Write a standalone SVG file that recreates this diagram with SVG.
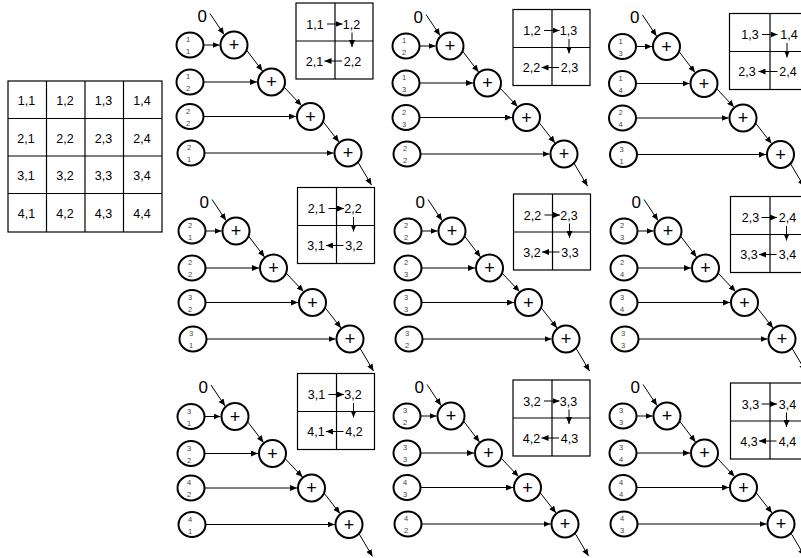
<svg xmlns="http://www.w3.org/2000/svg" width="801" height="558" viewBox="0 0 801 558">
<defs>
<style>
text{font-family:"Liberation Sans",Arial,sans-serif;text-anchor:middle;fill:#000}
.n{fill:#fff;stroke:#000;stroke-width:2}
.b{fill:none;stroke:#000;stroke-width:1.2}
.c line{stroke:#000;stroke-width:1;marker-end:url(#ah)}
.z{font-size:17px}
.p{font-size:18px}
.d{font-size:7.5px;fill:#444}
.m{font-size:12.5px}
</style>
<marker id="ah" markerUnits="userSpaceOnUse" markerWidth="7" markerHeight="6" refX="7" refY="3" orient="auto"><path d="M0,0 L7,3 L0,6 z" fill="#000"/></marker>
</defs>
<rect width="801" height="558" fill="#fff"/>

<g id="big-matrix">
<rect class="b" x="8" y="81" width="154" height="151"/>
<line class="b" x1="46.5" y1="81" x2="46.5" y2="232"/>
<line class="b" x1="85" y1="81" x2="85" y2="232"/>
<line class="b" x1="123.5" y1="81" x2="123.5" y2="232"/>
<line class="b" x1="8" y1="118.5" x2="162" y2="118.5"/>
<line class="b" x1="8" y1="156" x2="162" y2="156"/>
<line class="b" x1="8" y1="193.5" x2="162" y2="193.5"/>
<text class="m" x="26.5" y="104.5">1,1</text><text class="m" x="65" y="104.5">1,2</text><text class="m" x="103.5" y="104.5">1,3</text><text class="m" x="142" y="104.5">1,4</text>
<text class="m" x="26" y="142.5">2,1</text><text class="m" x="65" y="142.5">2,2</text><text class="m" x="103.5" y="142.5">2,3</text><text class="m" x="142" y="142.5">2,4</text>
<text class="m" x="26" y="180">3,1</text><text class="m" x="65" y="180">3,2</text><text class="m" x="103.5" y="180">3,3</text><text class="m" x="142" y="180">3,4</text>
<text class="m" x="26.5" y="218">4,1</text><text class="m" x="65" y="218">4,2</text><text class="m" x="103.5" y="218">4,3</text><text class="m" x="142" y="218">4,4</text>
</g>

<g id="connectors" class="c">
<g transform="translate(234,45)"><line x1="-24" y1="-31.5" x2="-10" y2="-10.5"/><line x1="-30.5" y1="0" x2="-14.5" y2="0"/><line x1="-30.5" y1="37" x2="23" y2="37"/><line x1="-30.5" y1="71.5" x2="62" y2="71.5"/><line x1="-29.5" y1="108" x2="99.5" y2="108"/><line x1="12.5" y1="5" x2="28.5" y2="26"/><line x1="50" y1="42" x2="67.5" y2="60.5"/><line x1="89" y1="76.5" x2="105" y2="97"/><line x1="123" y1="115.5" x2="137.5" y2="140"/></g>
<g transform="translate(450,46)"><line x1="-24" y1="-31.5" x2="-10" y2="-10.5"/><line x1="-30.5" y1="0" x2="-14.5" y2="0"/><line x1="-30.5" y1="37" x2="23" y2="37"/><line x1="-30.5" y1="71.5" x2="62" y2="71.5"/><line x1="-29.5" y1="108" x2="99.5" y2="108"/><line x1="12.5" y1="5" x2="28.5" y2="26"/><line x1="50" y1="42" x2="67.5" y2="60.5"/><line x1="89" y1="76.5" x2="105" y2="97"/><line x1="123" y1="115.5" x2="137.5" y2="140"/></g>
<g transform="translate(666.5,46.5)"><line x1="-24" y1="-31.5" x2="-10" y2="-10.5"/><line x1="-30.5" y1="0" x2="-14.5" y2="0"/><line x1="-30.5" y1="37" x2="23" y2="37"/><line x1="-30.5" y1="71.5" x2="62" y2="71.5"/><line x1="-29.5" y1="108" x2="99.5" y2="108"/><line x1="12.5" y1="5" x2="28.5" y2="26"/><line x1="50" y1="42" x2="67.5" y2="60.5"/><line x1="89" y1="76.5" x2="105" y2="97"/><line x1="123" y1="115.5" x2="137.5" y2="140"/></g>
<g transform="translate(236,231)"><line x1="-24" y1="-31.5" x2="-10" y2="-10.5"/><line x1="-30.5" y1="0" x2="-14.5" y2="0"/><line x1="-30.5" y1="37" x2="23" y2="37"/><line x1="-30.5" y1="71.5" x2="62" y2="71.5"/><line x1="-29.5" y1="108" x2="99.5" y2="108"/><line x1="12.5" y1="5" x2="28.5" y2="26"/><line x1="50" y1="42" x2="67.5" y2="60.5"/><line x1="89" y1="76.5" x2="105" y2="97"/><line x1="123" y1="115.5" x2="137.5" y2="140"/></g>
<g transform="translate(452,231)"><line x1="-24" y1="-31.5" x2="-10" y2="-10.5"/><line x1="-30.5" y1="0" x2="-14.5" y2="0"/><line x1="-30.5" y1="37" x2="23" y2="37"/><line x1="-30.5" y1="71.5" x2="62" y2="71.5"/><line x1="-29.5" y1="108" x2="99.5" y2="108"/><line x1="12.5" y1="5" x2="28.5" y2="26"/><line x1="50" y1="42" x2="67.5" y2="60.5"/><line x1="89" y1="76.5" x2="105" y2="97"/><line x1="123" y1="115.5" x2="137.5" y2="140"/></g>
<g transform="translate(668,231)"><line x1="-24" y1="-31.5" x2="-10" y2="-10.5"/><line x1="-30.5" y1="0" x2="-14.5" y2="0"/><line x1="-30.5" y1="37" x2="23" y2="37"/><line x1="-30.5" y1="71.5" x2="62" y2="71.5"/><line x1="-29.5" y1="108" x2="99.5" y2="108"/><line x1="12.5" y1="5" x2="28.5" y2="26"/><line x1="50" y1="42" x2="67.5" y2="60.5"/><line x1="89" y1="76.5" x2="105" y2="97"/><line x1="123" y1="115.5" x2="137.5" y2="140"/></g>
<g transform="translate(235,416.5)"><line x1="-24" y1="-31.5" x2="-10" y2="-10.5"/><line x1="-30.5" y1="0" x2="-14.5" y2="0"/><line x1="-30.5" y1="37" x2="23" y2="37"/><line x1="-30.5" y1="71.5" x2="62" y2="71.5"/><line x1="-29.5" y1="108" x2="99.5" y2="108"/><line x1="12.5" y1="5" x2="28.5" y2="26"/><line x1="50" y1="42" x2="67.5" y2="60.5"/><line x1="89" y1="76.5" x2="105" y2="97"/><line x1="123" y1="115.5" x2="137.5" y2="140"/></g>
<g transform="translate(451,416)"><line x1="-24" y1="-31.5" x2="-10" y2="-10.5"/><line x1="-30.5" y1="0" x2="-14.5" y2="0"/><line x1="-30.5" y1="37" x2="23" y2="37"/><line x1="-30.5" y1="71.5" x2="62" y2="71.5"/><line x1="-29.5" y1="108" x2="99.5" y2="108"/><line x1="12.5" y1="5" x2="28.5" y2="26"/><line x1="50" y1="42" x2="67.5" y2="60.5"/><line x1="89" y1="76.5" x2="105" y2="97"/><line x1="123" y1="115.5" x2="137.5" y2="140"/></g>
<g transform="translate(667,416)"><line x1="-24" y1="-31.5" x2="-10" y2="-10.5"/><line x1="-30.5" y1="0" x2="-14.5" y2="0"/><line x1="-30.5" y1="37" x2="23" y2="37"/><line x1="-30.5" y1="71.5" x2="62" y2="71.5"/><line x1="-29.5" y1="108" x2="99.5" y2="108"/><line x1="12.5" y1="5" x2="28.5" y2="26"/><line x1="50" y1="42" x2="67.5" y2="60.5"/><line x1="89" y1="76.5" x2="105" y2="97"/><line x1="123" y1="115.5" x2="137.5" y2="140"/></g>
<g transform="translate(296,3)"><line x1="31" y1="21" x2="46.5" y2="21"/><line x1="56" y1="29.5" x2="56" y2="44"/><line x1="46" y1="58" x2="28.5" y2="58"/></g>
<g transform="translate(513,9.5)"><line x1="31" y1="21" x2="46.5" y2="21"/><line x1="56" y1="29.5" x2="56" y2="44"/><line x1="46" y1="58" x2="28.5" y2="58"/></g>
<g transform="translate(729.5,13.5)"><line x1="32.5" y1="21" x2="48" y2="21"/><line x1="57.5" y1="29.5" x2="57.5" y2="44"/><line x1="48" y1="58" x2="29" y2="58"/></g>
<g transform="translate(297.5,187.5)"><line x1="31" y1="21" x2="46.5" y2="21"/><line x1="56" y1="29.5" x2="56" y2="44"/><line x1="46" y1="58" x2="28.5" y2="58"/></g>
<g transform="translate(513.5,194)"><line x1="31" y1="21" x2="46.5" y2="21"/><line x1="56" y1="29.5" x2="56" y2="44"/><line x1="46" y1="58" x2="28.5" y2="58"/></g>
<g transform="translate(730.5,196.5)"><line x1="31" y1="21" x2="46.5" y2="21"/><line x1="56" y1="29.5" x2="56" y2="44"/><line x1="46" y1="58" x2="28.5" y2="58"/></g>
<g transform="translate(297.5,373.5)"><line x1="31" y1="21" x2="46.5" y2="21"/><line x1="56" y1="29.5" x2="56" y2="44"/><line x1="46" y1="58" x2="28.5" y2="58"/></g>
<g transform="translate(513,380)"><line x1="31" y1="21" x2="46.5" y2="21"/><line x1="56" y1="29.5" x2="56" y2="44"/><line x1="46" y1="58" x2="28.5" y2="58"/></g>
<g transform="translate(730.5,383)"><line x1="31" y1="21" x2="46.5" y2="21"/><line x1="56" y1="29.5" x2="56" y2="44"/><line x1="46" y1="58" x2="28.5" y2="58"/></g>
</g>

<g id="panel1" transform="translate(234,45)">
<g id="p1-zero"><text class="z" x="-31.7" y="-23.5">0</text></g>
<g id="p1-in1"><ellipse class="n" cx="-44" cy="0" rx="13.5" ry="12.5"/><text class="d" x="-46" y="-2.8">1</text><text class="d" x="-46" y="9.2">1</text></g>
<g id="p1-in2"><ellipse class="n" cx="-44" cy="37" rx="13.5" ry="12.5"/><text class="d" x="-46" y="34.2">1</text><text class="d" x="-46" y="46.2">2</text></g>
<g id="p1-in3"><ellipse class="n" cx="-44" cy="71.5" rx="13.5" ry="12.5"/><text class="d" x="-46" y="68.7">2</text><text class="d" x="-46" y="80.7">2</text></g>
<g id="p1-in4"><ellipse class="n" cx="-43" cy="108" rx="13.5" ry="12.5"/><text class="d" x="-45" y="105.2">2</text><text class="d" x="-45" y="117.2">1</text></g>
<g id="p1-add1"><circle class="n" cx="0" cy="0" r="13.5"/><text class="p" x="0" y="6.3">+</text></g>
<g id="p1-add2"><circle class="n" cx="37.5" cy="37" r="13.5"/><text class="p" x="37.5" y="43.3">+</text></g>
<g id="p1-add3"><circle class="n" cx="76.5" cy="71.5" r="13.5"/><text class="p" x="76.5" y="77.8">+</text></g>
<g id="p1-add4"><circle class="n" cx="114" cy="108" r="13.5"/><text class="p" x="114" y="114.3">+</text></g>
</g>
<g id="p1-matrix" transform="translate(296,3)"><rect class="b" width="77" height="76"/><line class="b" x1="39" y1="0" x2="39" y2="76"/><line class="b" x1="0" y1="38" x2="77" y2="38"/><text class="m" x="19" y="25.5">1,1</text><text class="m" x="55.5" y="25.5">1,2</text><text class="m" x="18.5" y="62.5">2,1</text><text class="m" x="56.5" y="62.5">2,2</text></g>

<g id="panel2" transform="translate(450,46)">
<g id="p2-zero"><text class="z" x="-31.7" y="-23.5">0</text></g>
<g id="p2-in1"><ellipse class="n" cx="-44" cy="0" rx="13.5" ry="12.5"/><text class="d" x="-46" y="-2.8">1</text><text class="d" x="-46" y="9.2">2</text></g>
<g id="p2-in2"><ellipse class="n" cx="-44" cy="37" rx="13.5" ry="12.5"/><text class="d" x="-46" y="34.2">1</text><text class="d" x="-46" y="46.2">3</text></g>
<g id="p2-in3"><ellipse class="n" cx="-44" cy="71.5" rx="13.5" ry="12.5"/><text class="d" x="-46" y="68.7">2</text><text class="d" x="-46" y="80.7">3</text></g>
<g id="p2-in4"><ellipse class="n" cx="-43" cy="108" rx="13.5" ry="12.5"/><text class="d" x="-45" y="105.2">2</text><text class="d" x="-45" y="117.2">2</text></g>
<g id="p2-add1"><circle class="n" cx="0" cy="0" r="13.5"/><text class="p" x="0" y="6.3">+</text></g>
<g id="p2-add2"><circle class="n" cx="37.5" cy="37" r="13.5"/><text class="p" x="37.5" y="43.3">+</text></g>
<g id="p2-add3"><circle class="n" cx="76.5" cy="71.5" r="13.5"/><text class="p" x="76.5" y="77.8">+</text></g>
<g id="p2-add4"><circle class="n" cx="114" cy="108" r="13.5"/><text class="p" x="114" y="114.3">+</text></g>
</g>
<g id="p2-matrix" transform="translate(513,9.5)"><rect class="b" width="77" height="76"/><line class="b" x1="39" y1="0" x2="39" y2="76"/><line class="b" x1="0" y1="38" x2="77" y2="38"/><text class="m" x="19" y="25.5">1,2</text><text class="m" x="55.5" y="25.5">1,3</text><text class="m" x="18.5" y="62.5">2,2</text><text class="m" x="56.5" y="62.5">2,3</text></g>

<g id="panel3" transform="translate(666.5,46.5)">
<g id="p3-zero"><text class="z" x="-31.7" y="-23.5">0</text></g>
<g id="p3-in1"><ellipse class="n" cx="-44" cy="0" rx="13.5" ry="12.5"/><text class="d" x="-46" y="-2.8">1</text><text class="d" x="-46" y="9.2">3</text></g>
<g id="p3-in2"><ellipse class="n" cx="-44" cy="37" rx="13.5" ry="12.5"/><text class="d" x="-46" y="34.2">1</text><text class="d" x="-46" y="46.2">4</text></g>
<g id="p3-in3"><ellipse class="n" cx="-44" cy="71.5" rx="13.5" ry="12.5"/><text class="d" x="-46" y="68.7">2</text><text class="d" x="-46" y="80.7">4</text></g>
<g id="p3-in4"><ellipse class="n" cx="-43" cy="108" rx="13.5" ry="12.5"/><text class="d" x="-45" y="105.2">3</text><text class="d" x="-45" y="117.2">1</text></g>
<g id="p3-add1"><circle class="n" cx="0" cy="0" r="13.5"/><text class="p" x="0" y="6.3">+</text></g>
<g id="p3-add2"><circle class="n" cx="37.5" cy="37" r="13.5"/><text class="p" x="37.5" y="43.3">+</text></g>
<g id="p3-add3"><circle class="n" cx="76.5" cy="71.5" r="13.5"/><text class="p" x="76.5" y="77.8">+</text></g>
<g id="p3-add4"><circle class="n" cx="114" cy="108" r="13.5"/><text class="p" x="114" y="114.3">+</text></g>
</g>
<g id="p3-matrix" transform="translate(729.5,13.5)"><rect class="b" width="79" height="76"/><line class="b" x1="40.5" y1="0" x2="40.5" y2="76"/><line class="b" x1="0" y1="38" x2="79" y2="38"/><text class="m" x="20.5" y="25.5">1,3</text><text class="m" x="59.5" y="25.5">1,4</text><text class="m" x="17.5" y="62.5">2,3</text><text class="m" x="58.5" y="62.5">2,4</text></g>

<g id="panel4" transform="translate(236,231)">
<g id="p4-zero"><text class="z" x="-31.7" y="-23.5">0</text></g>
<g id="p4-in1"><ellipse class="n" cx="-44" cy="0" rx="13.5" ry="12.5"/><text class="d" x="-46" y="-2.8">2</text><text class="d" x="-46" y="9.2">1</text></g>
<g id="p4-in2"><ellipse class="n" cx="-44" cy="37" rx="13.5" ry="12.5"/><text class="d" x="-46" y="34.2">2</text><text class="d" x="-46" y="46.2">2</text></g>
<g id="p4-in3"><ellipse class="n" cx="-44" cy="71.5" rx="13.5" ry="12.5"/><text class="d" x="-46" y="68.7">3</text><text class="d" x="-46" y="80.7">2</text></g>
<g id="p4-in4"><ellipse class="n" cx="-43" cy="108" rx="13.5" ry="12.5"/><text class="d" x="-45" y="105.2">3</text><text class="d" x="-45" y="117.2">1</text></g>
<g id="p4-add1"><circle class="n" cx="0" cy="0" r="13.5"/><text class="p" x="0" y="6.3">+</text></g>
<g id="p4-add2"><circle class="n" cx="37.5" cy="37" r="13.5"/><text class="p" x="37.5" y="43.3">+</text></g>
<g id="p4-add3"><circle class="n" cx="76.5" cy="71.5" r="13.5"/><text class="p" x="76.5" y="77.8">+</text></g>
<g id="p4-add4"><circle class="n" cx="114" cy="108" r="13.5"/><text class="p" x="114" y="114.3">+</text></g>
</g>
<g id="p4-matrix" transform="translate(297.5,187.5)"><rect class="b" width="77" height="76"/><line class="b" x1="39" y1="0" x2="39" y2="76"/><line class="b" x1="0" y1="38" x2="77" y2="38"/><text class="m" x="19" y="25.5">2,1</text><text class="m" x="55.5" y="25.5">2,2</text><text class="m" x="18.5" y="62.5">3,1</text><text class="m" x="56.5" y="62.5">3,2</text></g>

<g id="panel5" transform="translate(452,231)">
<g id="p5-zero"><text class="z" x="-31.7" y="-23.5">0</text></g>
<g id="p5-in1"><ellipse class="n" cx="-44" cy="0" rx="13.5" ry="12.5"/><text class="d" x="-46" y="-2.8">2</text><text class="d" x="-46" y="9.2">2</text></g>
<g id="p5-in2"><ellipse class="n" cx="-44" cy="37" rx="13.5" ry="12.5"/><text class="d" x="-46" y="34.2">2</text><text class="d" x="-46" y="46.2">3</text></g>
<g id="p5-in3"><ellipse class="n" cx="-44" cy="71.5" rx="13.5" ry="12.5"/><text class="d" x="-46" y="68.7">3</text><text class="d" x="-46" y="80.7">3</text></g>
<g id="p5-in4"><ellipse class="n" cx="-43" cy="108" rx="13.5" ry="12.5"/><text class="d" x="-45" y="105.2">3</text><text class="d" x="-45" y="117.2">2</text></g>
<g id="p5-add1"><circle class="n" cx="0" cy="0" r="13.5"/><text class="p" x="0" y="6.3">+</text></g>
<g id="p5-add2"><circle class="n" cx="37.5" cy="37" r="13.5"/><text class="p" x="37.5" y="43.3">+</text></g>
<g id="p5-add3"><circle class="n" cx="76.5" cy="71.5" r="13.5"/><text class="p" x="76.5" y="77.8">+</text></g>
<g id="p5-add4"><circle class="n" cx="114" cy="108" r="13.5"/><text class="p" x="114" y="114.3">+</text></g>
</g>
<g id="p5-matrix" transform="translate(513.5,194)"><rect class="b" width="77" height="76"/><line class="b" x1="39" y1="0" x2="39" y2="76"/><line class="b" x1="0" y1="38" x2="77" y2="38"/><text class="m" x="19" y="25.5">2,2</text><text class="m" x="55.5" y="25.5">2,3</text><text class="m" x="18.5" y="62.5">3,2</text><text class="m" x="56.5" y="62.5">3,3</text></g>

<g id="panel6" transform="translate(668,231)">
<g id="p6-zero"><text class="z" x="-31.7" y="-23.5">0</text></g>
<g id="p6-in1"><ellipse class="n" cx="-44" cy="0" rx="13.5" ry="12.5"/><text class="d" x="-46" y="-2.8">2</text><text class="d" x="-46" y="9.2">3</text></g>
<g id="p6-in2"><ellipse class="n" cx="-44" cy="37" rx="13.5" ry="12.5"/><text class="d" x="-46" y="34.2">2</text><text class="d" x="-46" y="46.2">4</text></g>
<g id="p6-in3"><ellipse class="n" cx="-44" cy="71.5" rx="13.5" ry="12.5"/><text class="d" x="-46" y="68.7">3</text><text class="d" x="-46" y="80.7">4</text></g>
<g id="p6-in4"><ellipse class="n" cx="-43" cy="108" rx="13.5" ry="12.5"/><text class="d" x="-45" y="105.2">3</text><text class="d" x="-45" y="117.2">3</text></g>
<g id="p6-add1"><circle class="n" cx="0" cy="0" r="13.5"/><text class="p" x="0" y="6.3">+</text></g>
<g id="p6-add2"><circle class="n" cx="37.5" cy="37" r="13.5"/><text class="p" x="37.5" y="43.3">+</text></g>
<g id="p6-add3"><circle class="n" cx="76.5" cy="71.5" r="13.5"/><text class="p" x="76.5" y="77.8">+</text></g>
<g id="p6-add4"><circle class="n" cx="114" cy="108" r="13.5"/><text class="p" x="114" y="114.3">+</text></g>
</g>
<g id="p6-matrix" transform="translate(730.5,196.5)"><rect class="b" width="79" height="76"/><line class="b" x1="39.5" y1="0" x2="39.5" y2="76"/><line class="b" x1="0" y1="38" x2="79" y2="38"/><text class="m" x="20" y="25.5">2,3</text><text class="m" x="57" y="25.5">2,4</text><text class="m" x="18.5" y="62.5">3,3</text><text class="m" x="57" y="62.5">3,4</text></g>

<g id="panel7" transform="translate(235,416.5)">
<g id="p7-zero"><text class="z" x="-31.7" y="-23.5">0</text></g>
<g id="p7-in1"><ellipse class="n" cx="-44" cy="0" rx="13.5" ry="12.5"/><text class="d" x="-46" y="-2.8">3</text><text class="d" x="-46" y="9.2">1</text></g>
<g id="p7-in2"><ellipse class="n" cx="-44" cy="37" rx="13.5" ry="12.5"/><text class="d" x="-46" y="34.2">3</text><text class="d" x="-46" y="46.2">2</text></g>
<g id="p7-in3"><ellipse class="n" cx="-44" cy="71.5" rx="13.5" ry="12.5"/><text class="d" x="-46" y="68.7">4</text><text class="d" x="-46" y="80.7">2</text></g>
<g id="p7-in4"><ellipse class="n" cx="-43" cy="108" rx="13.5" ry="12.5"/><text class="d" x="-45" y="105.2">4</text><text class="d" x="-45" y="117.2">1</text></g>
<g id="p7-add1"><circle class="n" cx="0" cy="0" r="13.5"/><text class="p" x="0" y="6.3">+</text></g>
<g id="p7-add2"><circle class="n" cx="37.5" cy="37" r="13.5"/><text class="p" x="37.5" y="43.3">+</text></g>
<g id="p7-add3"><circle class="n" cx="76.5" cy="71.5" r="13.5"/><text class="p" x="76.5" y="77.8">+</text></g>
<g id="p7-add4"><circle class="n" cx="114" cy="108" r="13.5"/><text class="p" x="114" y="114.3">+</text></g>
</g>
<g id="p7-matrix" transform="translate(297.5,373.5)"><rect class="b" width="77" height="76"/><line class="b" x1="39" y1="0" x2="39" y2="76"/><line class="b" x1="0" y1="38" x2="77" y2="38"/><text class="m" x="19" y="25.5">3,1</text><text class="m" x="55.5" y="25.5">3,2</text><text class="m" x="18.5" y="62.5">4,1</text><text class="m" x="56.5" y="62.5">4,2</text></g>

<g id="panel8" transform="translate(451,416)">
<g id="p8-zero"><text class="z" x="-31.7" y="-23.5">0</text></g>
<g id="p8-in1"><ellipse class="n" cx="-44" cy="0" rx="13.5" ry="12.5"/><text class="d" x="-46" y="-2.8">3</text><text class="d" x="-46" y="9.2">2</text></g>
<g id="p8-in2"><ellipse class="n" cx="-44" cy="37" rx="13.5" ry="12.5"/><text class="d" x="-46" y="34.2">3</text><text class="d" x="-46" y="46.2">3</text></g>
<g id="p8-in3"><ellipse class="n" cx="-44" cy="71.5" rx="13.5" ry="12.5"/><text class="d" x="-46" y="68.7">4</text><text class="d" x="-46" y="80.7">3</text></g>
<g id="p8-in4"><ellipse class="n" cx="-43" cy="108" rx="13.5" ry="12.5"/><text class="d" x="-45" y="105.2">4</text><text class="d" x="-45" y="117.2">2</text></g>
<g id="p8-add1"><circle class="n" cx="0" cy="0" r="13.5"/><text class="p" x="0" y="6.3">+</text></g>
<g id="p8-add2"><circle class="n" cx="37.5" cy="37" r="13.5"/><text class="p" x="37.5" y="43.3">+</text></g>
<g id="p8-add3"><circle class="n" cx="76.5" cy="71.5" r="13.5"/><text class="p" x="76.5" y="77.8">+</text></g>
<g id="p8-add4"><circle class="n" cx="114" cy="108" r="13.5"/><text class="p" x="114" y="114.3">+</text></g>
</g>
<g id="p8-matrix" transform="translate(513,380)"><rect class="b" width="77" height="76"/><line class="b" x1="39" y1="0" x2="39" y2="76"/><line class="b" x1="0" y1="38" x2="77" y2="38"/><text class="m" x="19" y="25.5">3,2</text><text class="m" x="55.5" y="25.5">3,3</text><text class="m" x="18.5" y="62.5">4,2</text><text class="m" x="56.5" y="62.5">4,3</text></g>

<g id="panel9" transform="translate(667,416)">
<g id="p9-zero"><text class="z" x="-31.7" y="-23.5">0</text></g>
<g id="p9-in1"><ellipse class="n" cx="-44" cy="0" rx="13.5" ry="12.5"/><text class="d" x="-46" y="-2.8">3</text><text class="d" x="-46" y="9.2">3</text></g>
<g id="p9-in2"><ellipse class="n" cx="-44" cy="37" rx="13.5" ry="12.5"/><text class="d" x="-46" y="34.2">3</text><text class="d" x="-46" y="46.2">4</text></g>
<g id="p9-in3"><ellipse class="n" cx="-44" cy="71.5" rx="13.5" ry="12.5"/><text class="d" x="-46" y="68.7">4</text><text class="d" x="-46" y="80.7">4</text></g>
<g id="p9-in4"><ellipse class="n" cx="-43" cy="108" rx="13.5" ry="12.5"/><text class="d" x="-45" y="105.2">4</text><text class="d" x="-45" y="117.2">3</text></g>
<g id="p9-add1"><circle class="n" cx="0" cy="0" r="13.5"/><text class="p" x="0" y="6.3">+</text></g>
<g id="p9-add2"><circle class="n" cx="37.5" cy="37" r="13.5"/><text class="p" x="37.5" y="43.3">+</text></g>
<g id="p9-add3"><circle class="n" cx="76.5" cy="71.5" r="13.5"/><text class="p" x="76.5" y="77.8">+</text></g>
<g id="p9-add4"><circle class="n" cx="114" cy="108" r="13.5"/><text class="p" x="114" y="114.3">+</text></g>
</g>
<g id="p9-matrix" transform="translate(730.5,383)"><rect class="b" width="79" height="76"/><line class="b" x1="39.5" y1="0" x2="39.5" y2="76"/><line class="b" x1="0" y1="38" x2="79" y2="38"/><text class="m" x="20" y="25.5">3,3</text><text class="m" x="57" y="25.5">3,4</text><text class="m" x="18.5" y="62.5">4,3</text><text class="m" x="57" y="62.5">4,4</text></g>
</svg>
